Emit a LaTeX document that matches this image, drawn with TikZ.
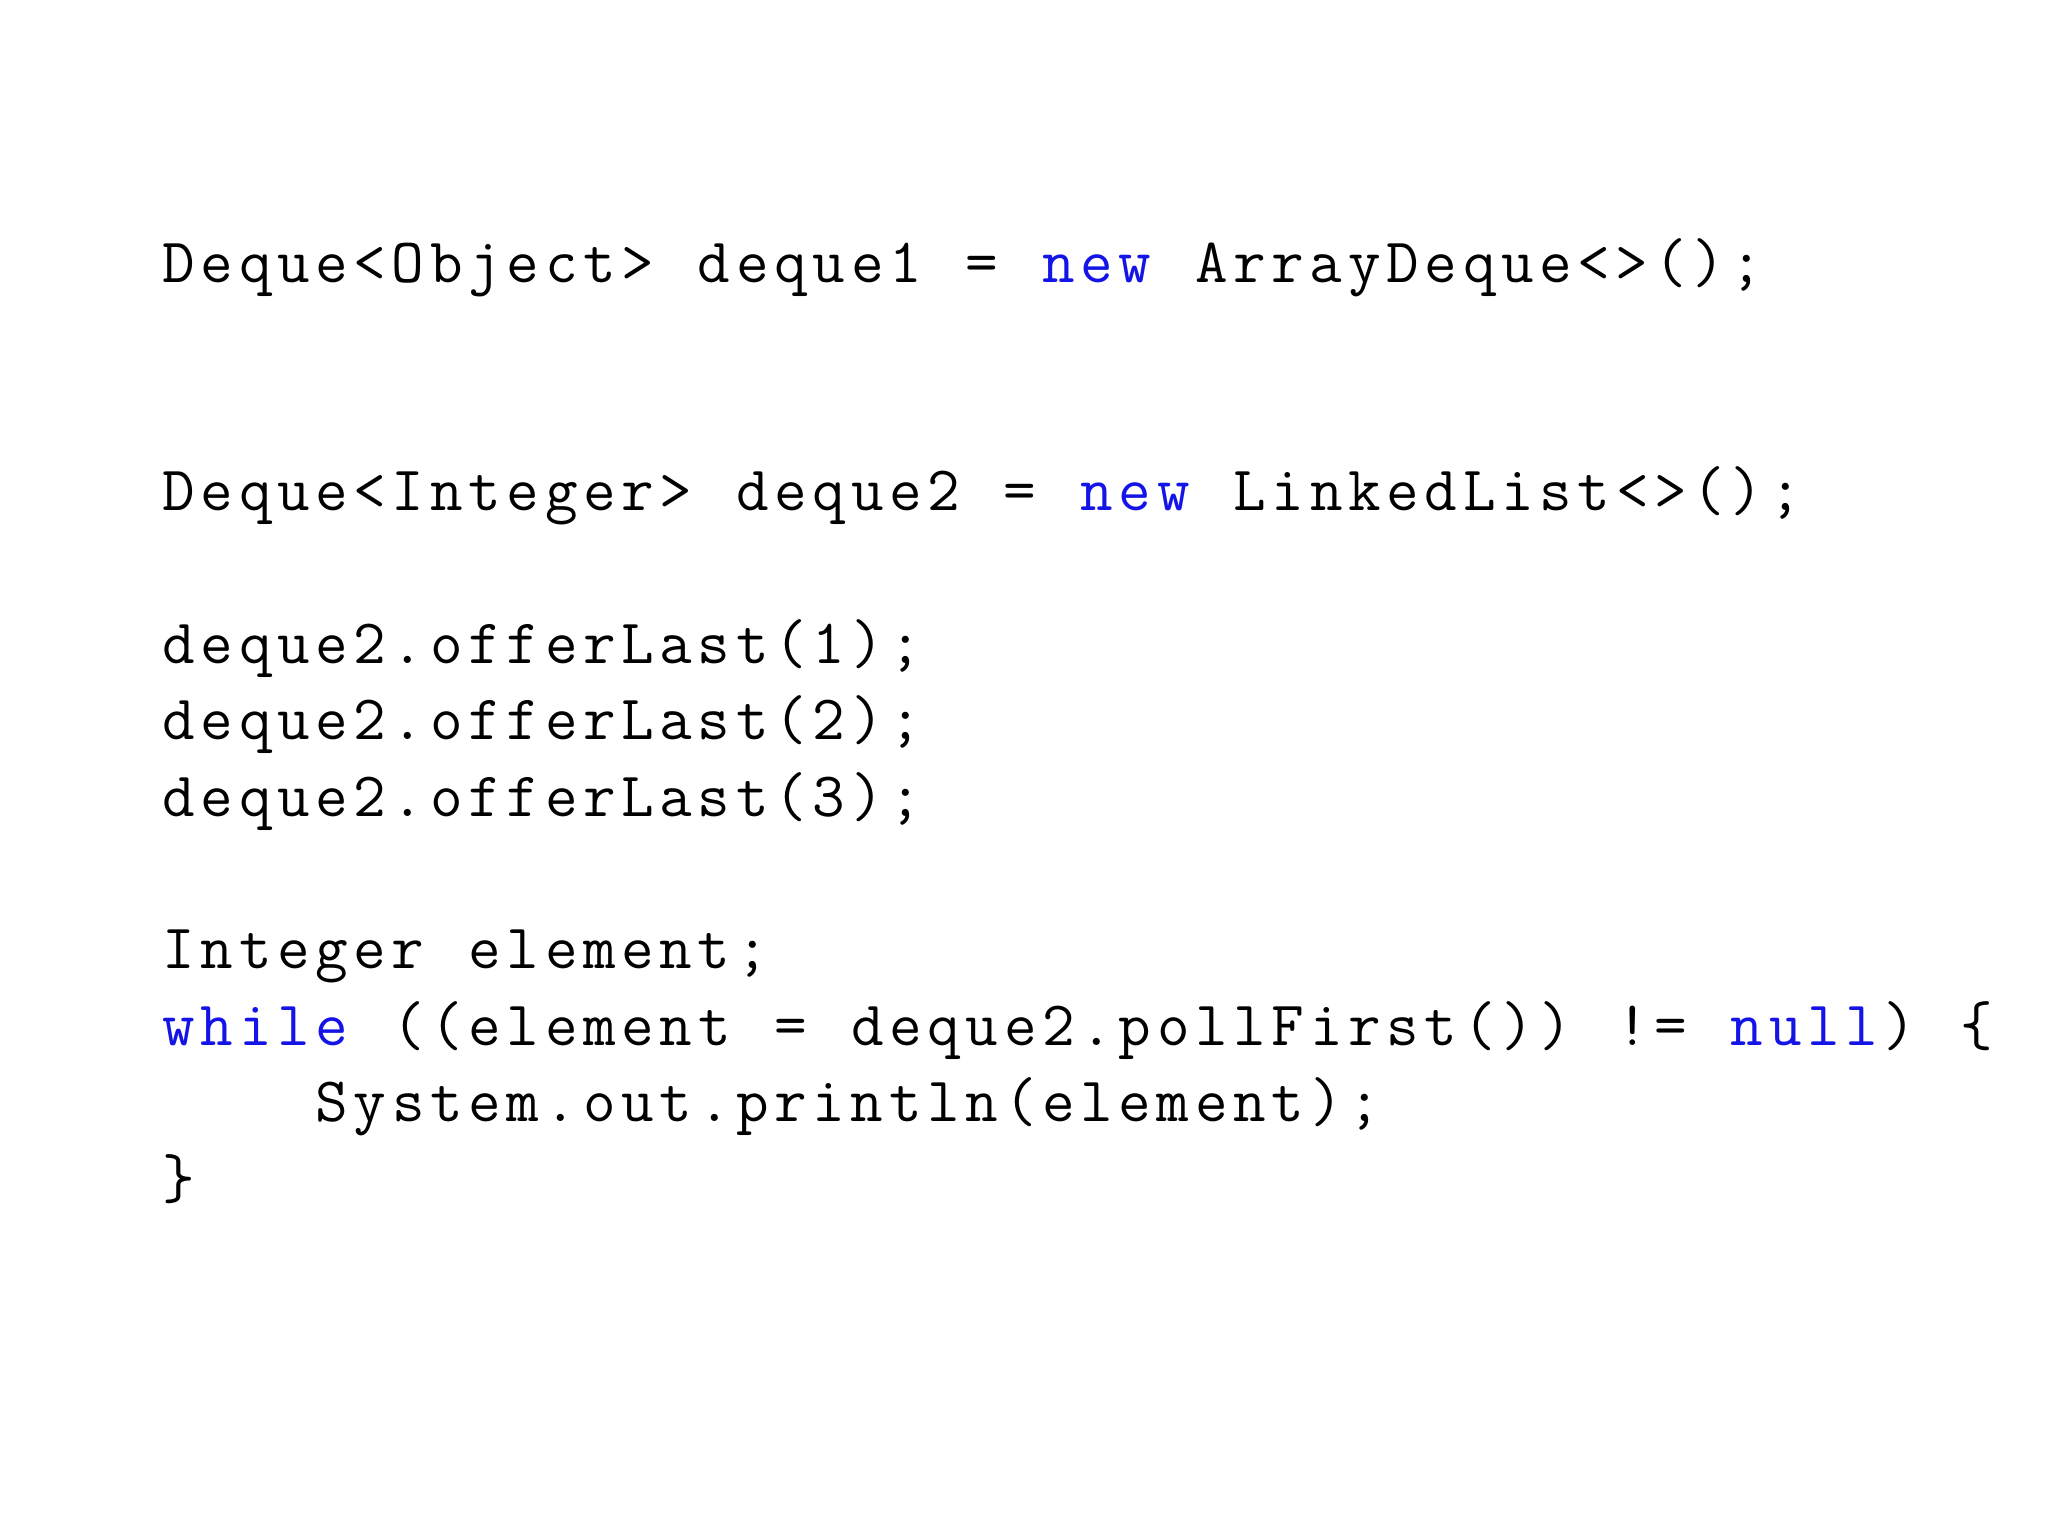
\documentclass[tikz,border=0pt]{standalone}
\usepackage{fontspec}
\newfontfamily\code{Latin Modern Mono}
\definecolor{kw}{RGB}{20,20,230}
\def\M#1{\Mloop#1\relax}
\def\Mloop#1{\ifx\relax#1\else\makebox[0.3825cm][c]{#1}\expandafter\Mloop\fi}
\def\K#1{\textcolor{kw}{\M{#1}}}
\begin{document}
\begin{tikzpicture}[x=1cm,y=1cm]
\useasboundingbox (0,0) rectangle (20.48,15.36);
\tikzset{ln/.style={anchor=base west,inner sep=0pt,font=\code\fontsize{18}{18}\selectfont}}
\node[ln] (l1) at (1.59,15.36-2.83) {\M{Deque<Object>~deque1~=~}\K{new}\M{~ArrayDeque<>();}};
\node[ln] (l2) at (1.59,15.36-5.11) {\M{Deque<Integer>~deque2~=~}\K{new}\M{~LinkedList<>();}};
\node[ln] (l3) at (1.59,15.36-6.64) {\M{deque2.offerLast(1);}};
\node[ln] (l4) at (1.59,15.36-7.40) {\M{deque2.offerLast(2);}};
\node[ln] (l5) at (1.59,15.36-8.17) {\M{deque2.offerLast(3);}};
\node[ln] (l6) at (1.59,15.36-9.69) {\M{Integer~element;}};
\node[ln] (l7) at (1.59,15.36-10.46) {\K{while}\M{~((element~=~deque2.pollFirst())~!=~}\K{null}\M{)~\{}};
\node[ln] (l8) at (1.59,15.36-11.22) {\M{~~~~System.out.println(element);}};
\node[ln] (l9) at (1.59,15.36-11.99) {\M{\}}};
\end{tikzpicture}
\end{document}
